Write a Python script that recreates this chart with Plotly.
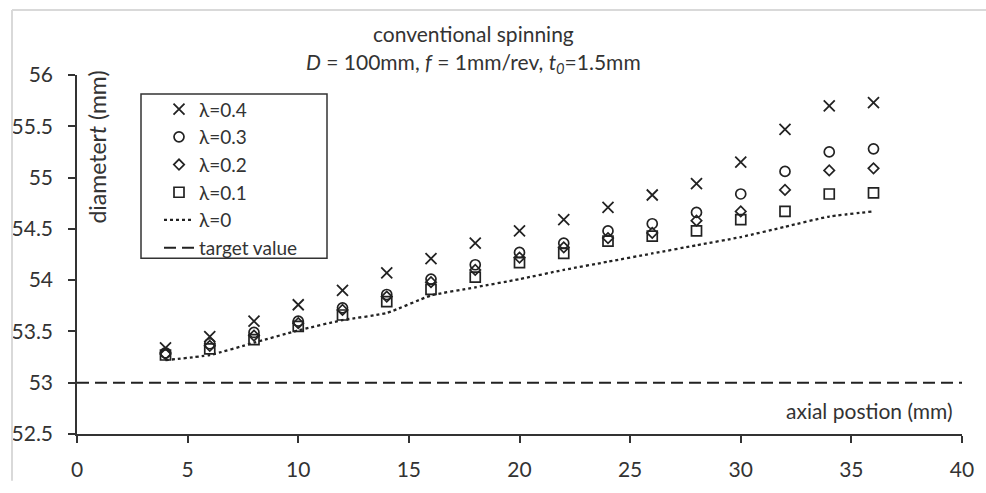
import plotly.graph_objects as go

# ---------------- data ----------------
axial_pos = [4, 6, 8, 10, 12, 14, 16, 18, 20, 22, 24, 26, 28, 30, 32, 34, 36]
lam_04 = [53.34, 53.45, 53.60, 53.76, 53.90, 54.07, 54.21, 54.36, 54.48, 54.59, 54.71, 54.83, 54.94, 55.15, 55.47, 55.70, 55.73]
lam_03 = [53.29, 53.38, 53.49, 53.60, 53.73, 53.86, 54.01, 54.15, 54.27, 54.36, 54.48, 54.55, 54.66, 54.84, 55.06, 55.25, 55.28]
lam_02 = [53.28, 53.36, 53.46, 53.58, 53.71, 53.84, 53.98, 54.10, 54.22, 54.32, 54.41, 54.46, 54.58, 54.67, 54.88, 55.07, 55.09]
lam_01 = [53.27, 53.33, 53.42, 53.55, 53.66, 53.79, 53.91, 54.03, 54.17, 54.26, 54.38, 54.43, 54.48, 54.59, 54.67, 54.84, 54.85]
lam_00 = [53.22, 53.27, 53.39, 53.51, 53.61, 53.68, 53.85, 53.93, 54.01, 54.10, 54.18, 54.26, 54.34, 54.42, 54.52, 54.62, 54.67]
target_x = [0, 40]
target_y = [53, 53]

x_ticks = [0, 5, 10, 15, 20, 25, 30, 35, 40]
y_ticks = [52.5, 53, 53.5, 54, 54.5, 55, 55.5, 56]

# ---------------- style ----------------
FONT = "Lato"
TXT = "#333333"
INK = "#222222"
FS = 21

W, H = 986, 493
L, R, T, B = 77, 24, 75, 42
PW, PH = W - L - R, H - T - B


def px(xp):
    return (xp - L) / PW


def py(yp):
    return (H - B - yp) / PH


fig = go.Figure()

fig.add_trace(go.Scatter(x=axial_pos, y=lam_04, mode="markers", name="λ=0.4",
                         marker=dict(symbol="x-thin-open", size=11, line=dict(width=1.8, color=INK), color=INK)))
fig.add_trace(go.Scatter(x=axial_pos, y=lam_03, mode="markers", name="λ=0.3",
                         marker=dict(symbol="circle-open", size=10, line=dict(width=1.7, color=INK), color=INK)))
fig.add_trace(go.Scatter(x=axial_pos, y=lam_02, mode="markers", name="λ=0.2",
                         marker=dict(symbol="diamond-open", size=8, line=dict(width=1.7, color=INK), color=INK)))
fig.add_trace(go.Scatter(x=axial_pos, y=lam_01, mode="markers", name="λ=0.1",
                         marker=dict(symbol="square-open", size=10, line=dict(width=1.7, color=INK), color=INK)))
fig.add_trace(go.Scatter(x=axial_pos, y=lam_00, mode="lines", name="λ=0",
                         line=dict(color=INK, width=2.3, dash="dot", shape="spline", smoothing=0.5)))
fig.add_trace(go.Scatter(x=target_x, y=target_y, mode="lines", name="target value",
                         line=dict(color=INK, width=2, dash="12px,6px")))

axis_common = dict(showgrid=False, zeroline=False, showline=True, linecolor=TXT, linewidth=1.5,
                   ticks="outside", ticklen=7, tickwidth=1.5, tickcolor=TXT,
                   tickfont=dict(family=FONT, size=FS, color=TXT))

fig.update_xaxes(range=[0, 40], tickvals=x_ticks, ticklabelstandoff=9, **axis_common)
fig.update_yaxes(range=[52.5, 56], tickvals=y_ticks, ticklabelstandoff=11, **axis_common)

annotations = [
    dict(text="conventional spinning", x=px(473), y=py(32), xref="paper", yref="paper",
         showarrow=False, xanchor="center", yanchor="middle", font=dict(family=FONT, size=FS, color=TXT)),
    dict(text="<i>D</i> = 100mm, <i>f</i> = 1mm/rev, <i>t<sub>0</sub></i>=1.5mm", x=px(473), y=py(62),
         xref="paper", yref="paper", showarrow=False, xanchor="center", yanchor="middle",
         font=dict(family=FONT, size=FS, color=TXT)),
    dict(text="diameter<i>t</i> (mm)", x=px(97), y=py(151), xref="paper", yref="paper", textangle=-90,
         showarrow=False, xanchor="center", yanchor="middle", font=dict(family=FONT, size=23, color=TXT)),
    dict(text="axial postion (mm)", x=px(955), y=py(426), xref="paper", yref="paper",
         showarrow=False, xanchor="right", yanchor="middle", font=dict(family=FONT, size=FS, color=TXT)),
]

shapes = [
    # legend frame
    dict(type="rect", xref="paper", yref="paper", x0=px(141), x1=px(327), y0=py(267), y1=py(95),
         line=dict(color=TXT, width=1.5), fillcolor="rgba(0,0,0,0)", layer="above"),
    # chart-area border (top and left edges visible)
    dict(type="line", xref="paper", yref="paper", x0=px(12), x1=px(990), y0=py(7), y1=py(7),
         line=dict(color="#d9d9d9", width=2)),
    dict(type="line", xref="paper", yref="paper", x0=px(12), x1=px(12), y0=py(7), y1=py(500),
         line=dict(color="#d9d9d9", width=2)),
]

fig.update_layout(
    width=W, height=H,
    margin=dict(l=L, r=R, t=T, b=B),
    paper_bgcolor="white", plot_bgcolor="white",
    font=dict(family=FONT, size=FS, color=TXT),
    showlegend=True,
    legend=dict(x=px(159), y=py(91), xanchor="left", yanchor="top", bgcolor="rgba(0,0,0,0)",
                borderwidth=0, font=dict(family=FONT, size=19, color=TXT), tracegroupgap=0),
    annotations=annotations,
    shapes=shapes,
)

fig.write_html("out.html")
